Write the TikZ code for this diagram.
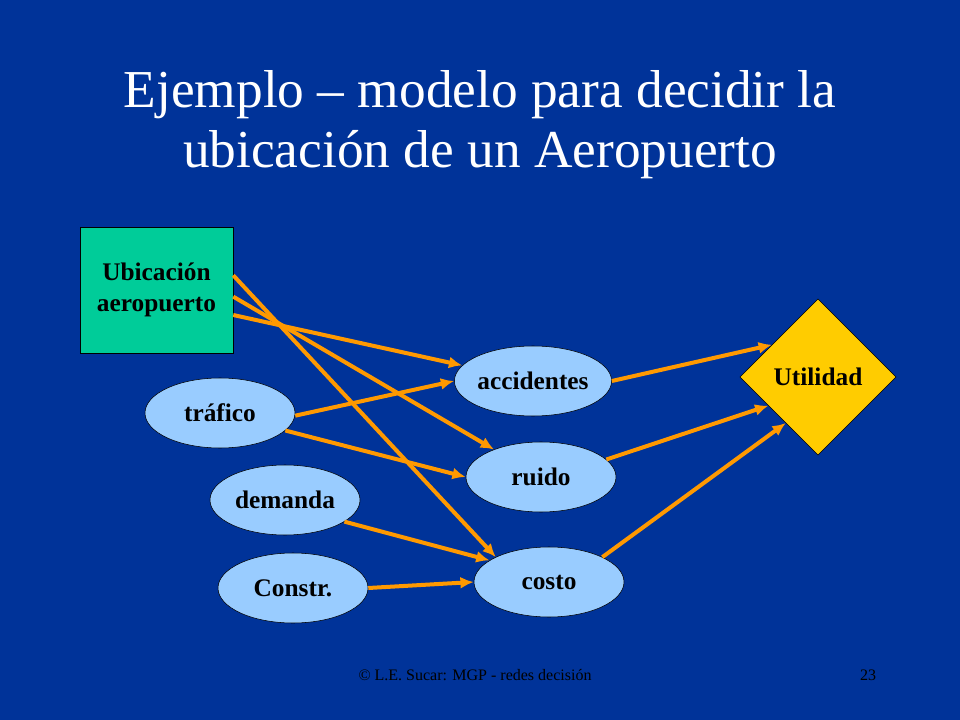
\documentclass[tikz,border=0pt]{standalone}
\usepackage{fontspec}
\setmainfont{Liberation Serif}
\usetikzlibrary{shapes.geometric,arrows.meta}
\definecolor{fondo}{RGB}{0,51,153}
\definecolor{verdeaz}{RGB}{0,204,153}
\definecolor{celeste}{RGB}{153,204,255}
\definecolor{oro}{RGB}{255,204,0}
\definecolor{naranja}{RGB}{255,153,0}
\tikzset{
  chance/.style={ellipse,draw=black,fill=celeste,minimum width=112.5pt,minimum height=52.5pt,inner sep=0pt,font=\fontsize{19}{22}\selectfont\bfseries},
  flecha/.style={draw=naranja,line width=3pt,-{Latex[length=10pt,width=9pt]}}
}
\begin{document}
\begin{tikzpicture}[x=0.75pt,y=0.75pt,yscale=-1,xscale=1]
\fill[fondo] (0,0) rectangle (960,720);
\useasboundingbox (0,0) rectangle (960,720);
% titulo
\node[text=white,align=center,font=\fontsize{40}{45}\selectfont] (titulo) at (480,125) {Ejemplo -- modelo para decidir la\\ubicación de un Aeropuerto};
% nodos
\node[draw=black,fill=verdeaz,minimum width=114.75pt,minimum height=94.5pt,inner sep=0pt,align=center,font=\fontsize{19}{23}\selectfont\bfseries] (ubic) at (156.5,290) {Ubicación\\aeropuerto};
\node[chance] (trafico) at (220,413) {tráfico};
\node[chance] (demanda) at (285,500) {demanda};
\node[chance] (constr) at (293,588) {Constr.};
\node[chance] (accid) at (533,381) {accidentes};
\node[chance] (ruido) at (541,477) {ruido};
\node[chance] (costo) at (549,582) {costo};
\node[diamond,draw=black,fill=oro,minimum width=117pt,minimum height=117pt,inner sep=0pt,font=\fontsize{19}{22}\selectfont\bfseries] (util) at (818,377) {Utilidad};
% arcos
\draw[flecha] ([yshift=18.75pt]ubic.east) -- (accid);
\draw[flecha] ([yshift=5pt]ubic.east) -- (ruido);
\draw[flecha] ([yshift=-11pt]ubic.east) -- (costo.north west);
\draw[flecha] ([yshift=2pt]trafico.east) -- (accid.west);
\draw[flecha] (trafico.-15) -- (ruido.west);
\draw[flecha] (demanda.-20) -- (costo.160);
\draw[flecha] (constr.east) -- (costo.west);
\draw[flecha] (accid.east) -- (util.145);
\draw[flecha] (ruido.15) -- (util.-150);
\draw[flecha] (costo.25) -- (util.-125);
% pie
\node[text=black,font=\fontsize{12}{14}\selectfont] (pie) at (475,675) {© L.E. Sucar: MGP - redes decisión};
\node[text=black,font=\fontsize{12}{14}\selectfont] (pag) at (868,675) {23};
\end{tikzpicture}
\end{document}
